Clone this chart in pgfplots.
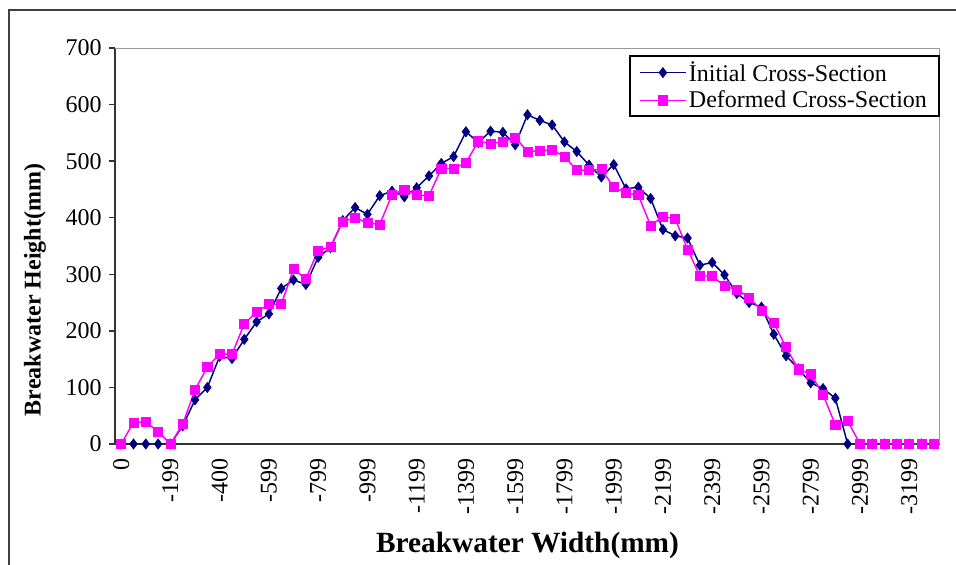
\documentclass[border=0pt]{standalone}
\usepackage{pgfplots}
\pgfplotsset{compat=1.18}
\usepackage{pgfplotstable}
\usepackage{fontspec}
\setmainfont{Liberation Serif}
\definecolor{navyc}{RGB}{0,0,128}
\definecolor{magc}{RGB}{255,0,255}

\pgfplotstableread{
i init def
0 0 0
1 0 38
2 0 39
3 0 22
4 0 0
5 32 35
6 78 96
7 100 136
8 155 159
9 151 159
10 185 212
11 216 234
12 230 247
13 275 247
14 290 309
15 282 292
16 330 342
17 347 348
18 395 393
19 418 400
20 406 391
21 439 388
22 447 441
23 437 450
24 453 440
25 474 439
26 496 487
27 508 487
28 552 497
29 533 535
30 553 531
31 551 534
32 529 542
33 582 517
34 572 518
35 564 520
36 534 508
37 517 484
38 493 484
39 472 486
40 494 454
41 451 444
42 454 440
43 434 386
44 379 402
45 368 398
46 364 344
47 316 297
48 321 297
49 299 279
50 266 273
51 250 259
52 242 236
53 194 214
54 156 171
55 133 132
56 108 124
57 98 87
58 81 34
59 0 41
60 0 0
61 0 0
62 0 0
63 0 0
64 0 0
65 0 0
66 0 0
}\bwdata

\begin{document}
\begin{tikzpicture}
\useasboundingbox (0,0) rectangle (717pt,423pt);
\draw[line width=1.5pt, black!75] (6.75pt,-10pt) -- (6.75pt,415.5pt) -- (730pt,415.5pt);
\begin{axis}[
  at={(86.25pt,90pt)}, anchor=south west,
  scale only axis, width=618.75pt, height=297pt,
  xmin=-0.5, xmax=66.5, ymin=0, ymax=700,
  axis lines=left,
  axis line style={-, line width=1.2pt, black!80},
  xtick={0,4,...,64},
  xticklabels={0,-199,-400,-599,-799,-999,-1199,-1399,-1599,-1799,-1999,-2199,-2399,-2599,-2799,-2999,-3199},
  xtick style={draw=none},
  minor xtick={-0.5,0.5,...,66.5},
  minor x tick style={line width=1pt, black!80},
  minor tick length=4.5pt,
  ytick={0,100,...,700},
  ytick style={line width=1pt, black!80},
  major tick length=4.5pt,
  tick align=outside,
  /pgf/number format/assume math mode=true,
  ticklabel style={font=\fontsize{18}{20}\selectfont},
  xticklabel style={rotate=90, anchor=east, xshift=-3pt},
  yticklabel style={xshift=-2pt},
  xlabel={Breakwater Width(mm)},
  xlabel style={font=\bfseries\fontsize{22}{24}\selectfont, at={(rel axis cs:0.5,-0.255)}, anchor=center},
  ylabel={Breakwater Height(mm)},
  ylabel style={font=\bfseries\fontsize{18}{20}\selectfont, at={(rel axis cs:-0.097,0.389)}, anchor=center},
  legend style={at={(rel axis cs:1,1)}, anchor=north east, yshift=-5pt,
    draw=black, line width=1.6pt, font=\fontsize{18}{20}\selectfont,
    inner xsep=7pt, inner ysep=2.5pt, row sep=1.5pt},
  legend cell align=left,
  legend image code/.code={\draw[mark repeat=2,mark phase=2,#1] plot coordinates {(0pt,0pt) (17pt,0pt) (34pt,0pt)};},
]
\draw[line width=1.5pt, black!40] (rel axis cs:0,1) -- (rel axis cs:1,1) -- (rel axis cs:1,0);
\addplot[color=navyc, line width=1.1pt, mark=diamond*, mark size=3.8pt, mark options={fill=navyc, draw=navyc, line width=0.5pt}]
  table[x=i, y=init] {\bwdata};
\addlegendentry{İnitial Cross-Section}
\addplot[color=magc, line width=1.1pt, mark=square*, mark size=3.4pt, mark options={fill=magc, draw=magc, line width=0.5pt}]
  table[x=i, y=def] {\bwdata};
\addlegendentry{Deformed Cross-Section}
\end{axis}
\end{tikzpicture}
\end{document}
